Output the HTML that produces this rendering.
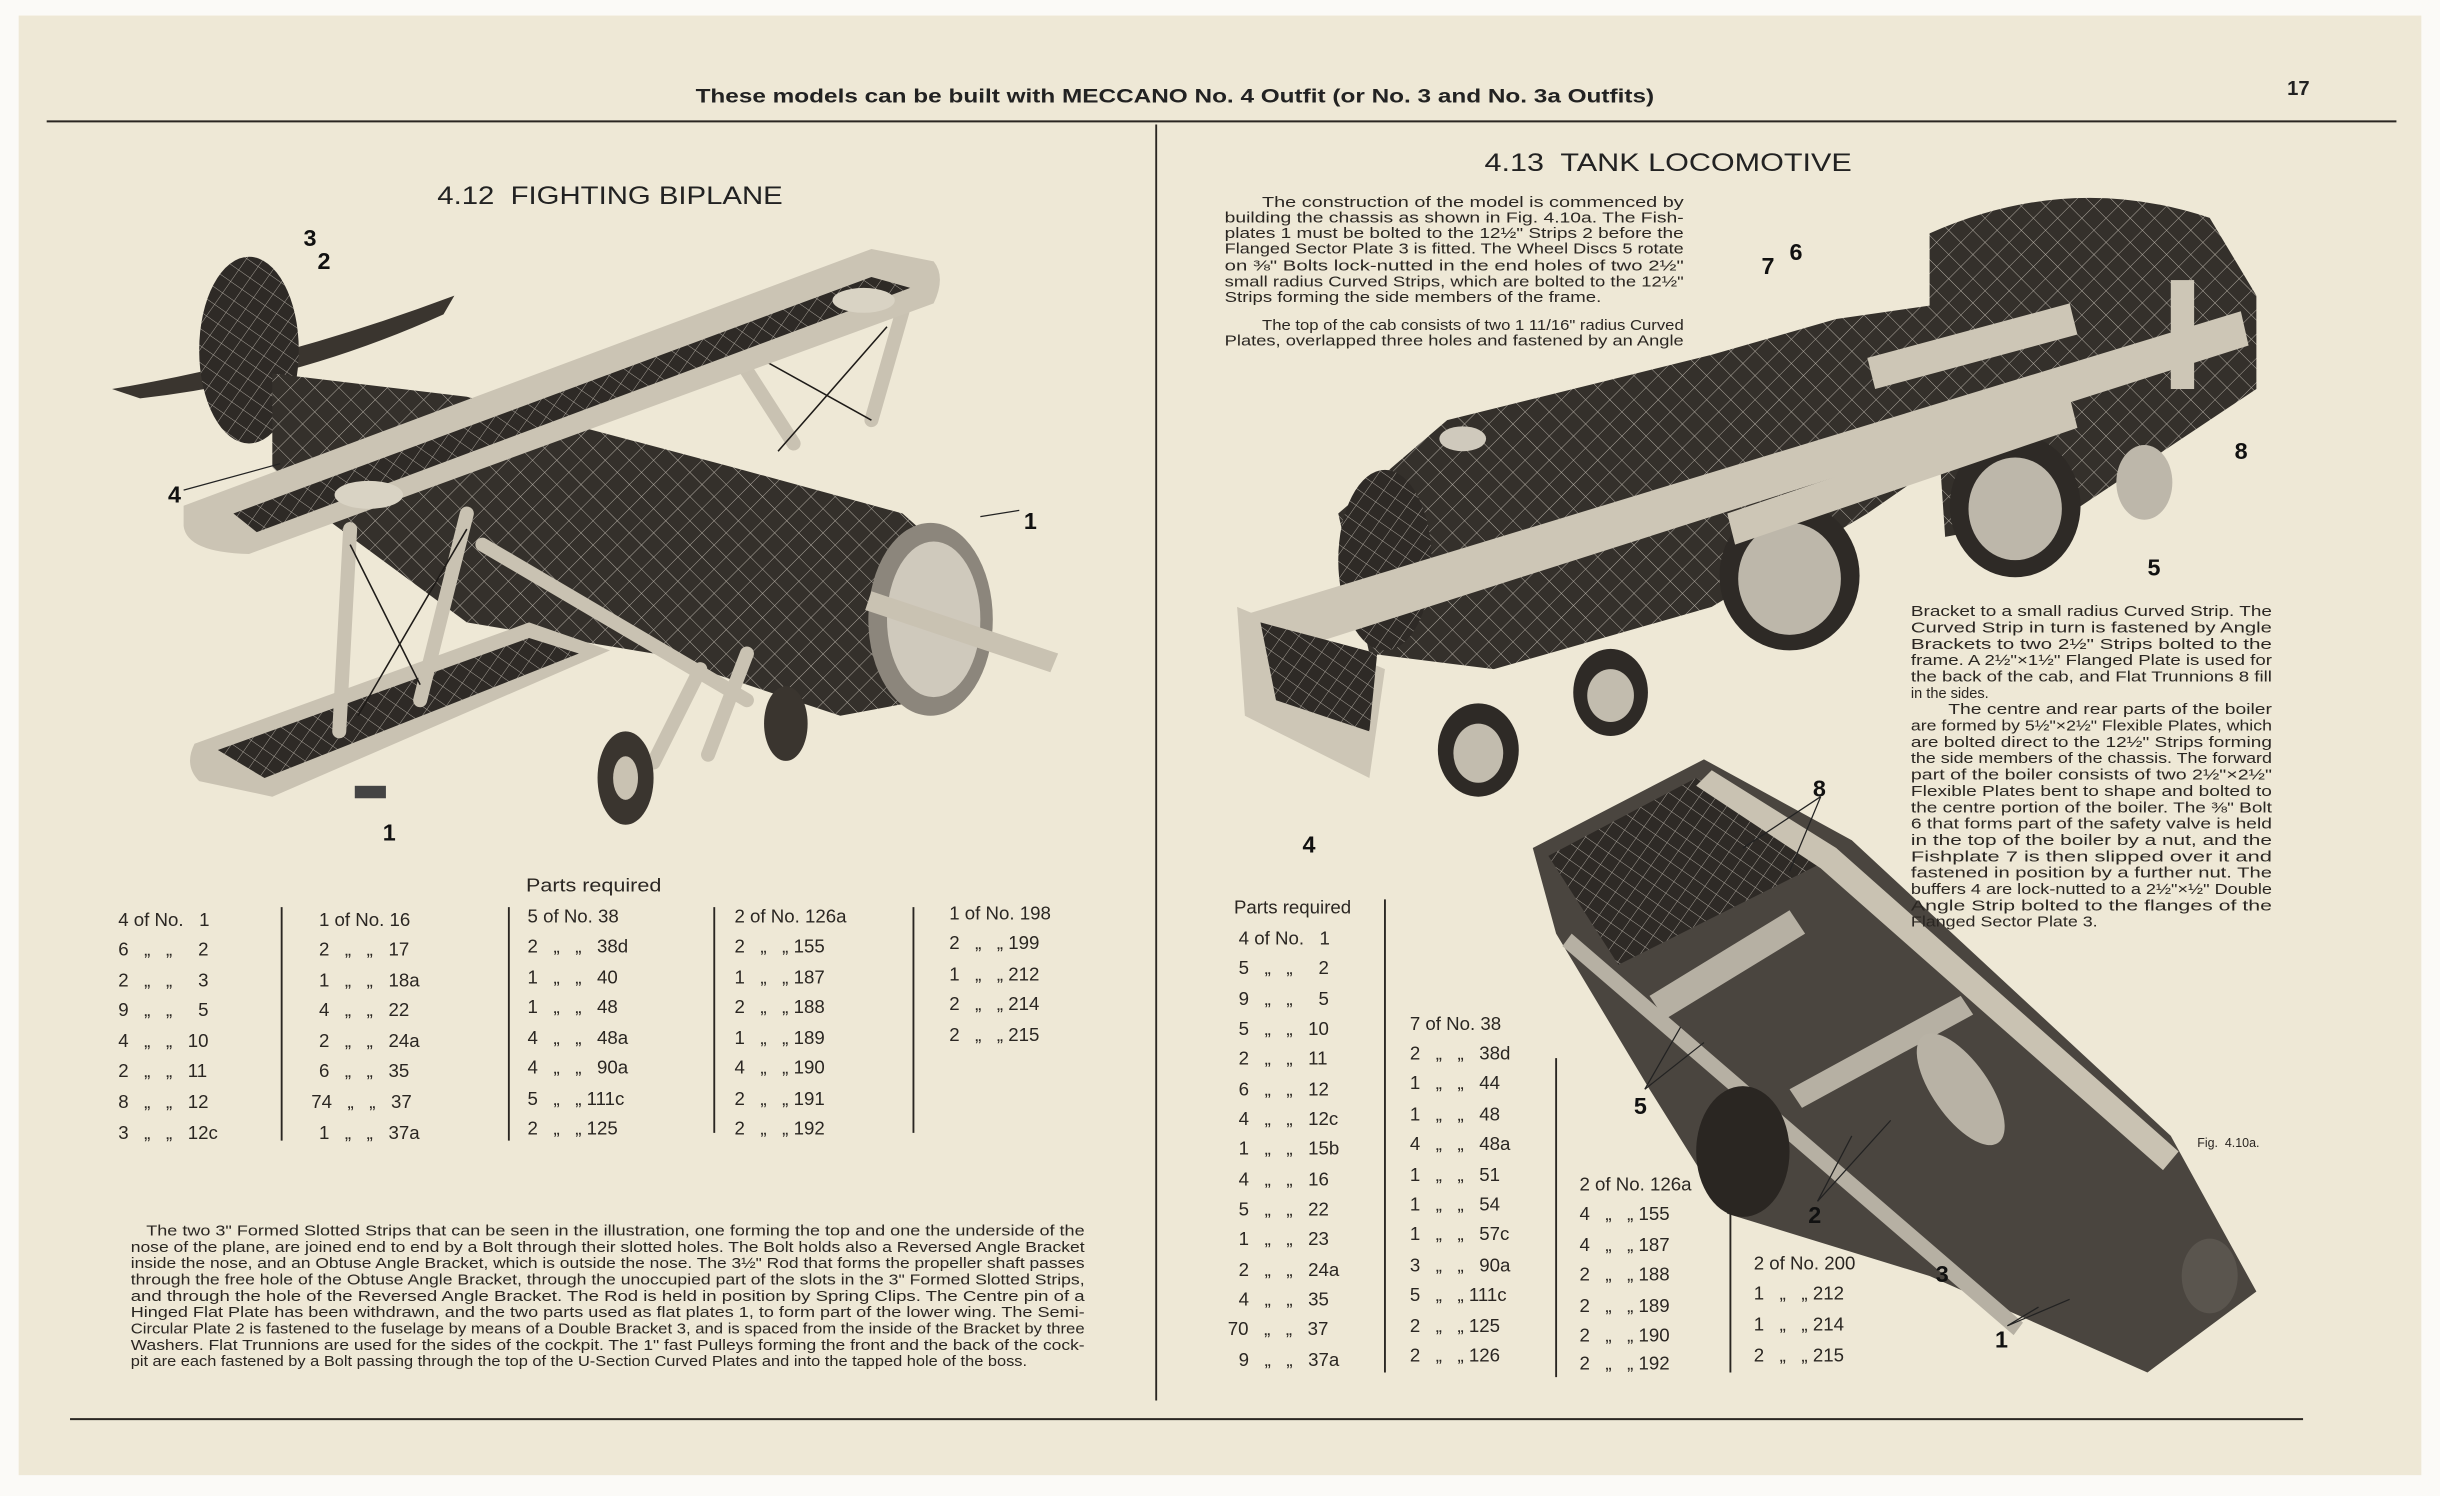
<!DOCTYPE html>
<html><head><meta charset="utf-8"><style>
html,body{margin:0;padding:0;background:#fff;}
svg{display:block}
text{font-family:"Liberation Sans",sans-serif;fill:#2a2622;white-space:pre}
.b{font-size:9.2px}
.t{font-size:12px}
.n{font-size:15px;font-weight:bold;fill:#111}
</style></head><body>
<svg width="2440" height="1496" viewBox="0 0 1568 961.4" preserveAspectRatio="none" xml:space="preserve">
<defs>
<pattern id="hx" width="9" height="9" patternUnits="userSpaceOnUse" patternTransform="rotate(35)">
<rect width="9" height="9" fill="#2e2a26"/>
<path d="M0 0H9M0 0V9" stroke="#a9a39a" stroke-width="0.6"/>
</pattern>
<pattern id="hx2" width="11" height="11" patternUnits="userSpaceOnUse" patternTransform="rotate(45)">
<rect width="11" height="11" fill="#34302b"/>
<path d="M0 0H11M0 0V11" stroke="#b3ada3" stroke-width="0.6"/>
</pattern>
</defs>
<rect x="0" y="0" width="1568" height="961.4" fill="#fbfaf7"/>
<rect x="12" y="10" width="1544" height="938" fill="#eee8d6"/>
<text x="755" y="66" text-anchor="middle" style="font-size:12.5px;font-weight:bold;fill:#222" textLength="616" lengthAdjust="spacingAndGlyphs">These models can be built with MECCANO No. 4 Outfit (or No. 3 and No. 3a Outfits)</text>
<text x="1477" y="61" text-anchor="middle" style="font-size:13px;font-weight:bold;fill:#222">17</text>
<line x1="30" y1="78" x2="1540" y2="78" stroke="#2a2622" stroke-width="1.3"/>
<line x1="743" y1="80" x2="743" y2="900" stroke="#2a2622" stroke-width="1.2"/>
<line x1="45" y1="912" x2="1480" y2="912" stroke="#2a2622" stroke-width="1.3"/>
<text x="392" y="131" text-anchor="middle" style="font-size:16px;fill:#222" textLength="222" lengthAdjust="spacingAndGlyphs">4.12  FIGHTING BIPLANE</text>
<text x="1072" y="110" text-anchor="middle" style="font-size:16px;fill:#222" textLength="236" lengthAdjust="spacingAndGlyphs">4.13  TANK LOCOMOTIVE</text>

<!-- BIPLANE -->
<g>
<path d="M72 250 Q180 232 292 190 L285 202 Q190 245 90 256 Z" fill="#3a352f"/>
<ellipse cx="160" cy="225" rx="32" ry="60" fill="url(#hx)"/>
<path d="M175 240 L300 255 L470 300 L580 330 L625 370 L620 445 L540 460 L420 420 L300 400 L205 330 L175 300 Z" fill="url(#hx2)"/>
<path d="M125 478 L340 400 L392 418 L175 512 L128 502 Q118 492 125 478 Z" fill="#c9c2b2"/>
<path d="M140 482 L340 410 L372 420 L170 500 Z" fill="url(#hx)"/>
<g stroke="#c9c2b2" stroke-width="9" stroke-linecap="round">
<line x1="218" y1="470" x2="225" y2="340"/>
<line x1="270" y1="450" x2="300" y2="330"/>
<line x1="510" y1="285" x2="465" y2="215"/>
<line x1="560" y1="270" x2="580" y2="200"/>
<line x1="310" y1="350" x2="480" y2="450"/>
<line x1="420" y1="490" x2="450" y2="430"/>
<line x1="455" y1="485" x2="480" y2="420"/>
</g>
<g stroke="#1e1b18" stroke-width="1">
<line x1="225" y1="350" x2="270" y2="440"/><line x1="300" y1="340" x2="230" y2="460"/>
<line x1="470" y1="220" x2="560" y2="270"/><line x1="570" y1="210" x2="500" y2="290"/>
</g>
<path d="M118 325 L560 160 L600 168 Q608 178 600 195 L160 356 Q120 355 118 338 Z" fill="#cbc4b4"/>
<path d="M150 330 L560 178 L585 185 L165 342 Z" fill="url(#hx)"/>
<ellipse cx="237" cy="318" rx="22" ry="9" fill="#d9d3c4"/>
<ellipse cx="555" cy="193" rx="20" ry="8" fill="#d9d3c4"/>
<ellipse cx="598" cy="398" rx="40" ry="62" fill="#8c867c"/>
<ellipse cx="600" cy="398" rx="30" ry="50" fill="#cfc9bc"/>
<path d="M560 380 L680 420 L675 432 L556 392 Z" fill="#c9c2b2"/>
<ellipse cx="402" cy="500" rx="18" ry="30" fill="#3a352f"/>
<ellipse cx="402" cy="500" rx="8" ry="14" fill="#c9c2b2"/>
<ellipse cx="505" cy="465" rx="14" ry="24" fill="#3a352f"/>
<rect x="228" y="505" width="20" height="8" fill="#444"/>
</g>
<g>
<text class="n" x="195" y="158">3</text>
<text class="n" x="204" y="173">2</text>
<text class="n" x="108" y="323">4</text>
<text class="n" x="658" y="340">1</text>
<text class="n" x="246" y="540">1</text>
<line x1="118" y1="315" x2="180" y2="298" stroke="#222" stroke-width="0.8"/>
<line x1="630" y1="332" x2="655" y2="328" stroke="#222" stroke-width="0.8"/>
</g>

<!-- LOCOMOTIVE -->
<g>
<path d="M1240 150 Q1330 110 1420 140 L1450 190 L1450 250 L1330 330 L1250 345 L1240 200 Z" fill="url(#hx2)"/>
<path d="M860 330 L930 270 L1100 228 L1180 205 L1250 195 L1330 240 L1200 330 L1100 390 L960 430 L880 420 Z" fill="url(#hx2)"/>
<ellipse cx="890" cy="360" rx="30" ry="58" fill="url(#hx)"/>
<ellipse cx="940" cy="282" rx="15" ry="8" fill="#cfc9bc"/>
<ellipse cx="1150" cy="370" rx="45" ry="48" fill="#2e2a26"/>
<ellipse cx="1150" cy="372" rx="33" ry="36" fill="#bdb7aa"/>
<ellipse cx="1295" cy="325" rx="42" ry="46" fill="#2e2a26"/>
<ellipse cx="1295" cy="327" rx="30" ry="33" fill="#bdb7aa"/>
<ellipse cx="1378" cy="310" rx="18" ry="24" fill="#bdb7aa"/>
<path d="M800 395 L1440 200 L1445 222 L830 418 Z" fill="#cdc6b6"/>
<path d="M1110 330 L1330 255 L1335 275 L1115 350 Z" fill="#cdc6b6"/>
<path d="M1200 230 L1330 195 L1335 215 L1205 250 Z" fill="#cdc6b6"/>
<rect x="1395" y="180" width="15" height="70" fill="#cdc6b6"/>
<path d="M795 390 L890 430 L880 500 L800 460 Z" fill="#cdc6b6"/>
<path d="M810 400 L885 420 L880 470 L820 450 Z" fill="url(#hx)"/>
<ellipse cx="950" cy="482" rx="26" ry="30" fill="#2e2a26"/><ellipse cx="950" cy="484" rx="16" ry="19" fill="#c2bcae"/>
<ellipse cx="1035" cy="445" rx="24" ry="28" fill="#2e2a26"/><ellipse cx="1035" cy="447" rx="15" ry="17" fill="#c2bcae"/>
</g>
<g>
<text class="n" x="1132" y="176">7</text>
<text class="n" x="1150" y="167">6</text>
<text class="n" x="1436" y="295">8</text>
<text class="n" x="1380" y="370">5</text>
<text class="n" x="837" y="548">4</text>
</g>
<!-- chassis figure -->
<g>
<path d="M985 545 L1095 488 L1190 540 L1395 730 L1450 830 L1380 882 L1240 820 L1110 780 L1060 700 L1000 600 Z" fill="#4a453f"/>
<path d="M995 550 L1090 500 L1180 550 L1040 620 Z" fill="url(#hx)"/>
<path d="M1100 495 L1180 545 L1400 740 L1390 752 L1170 558 L1090 505 Z" fill="#c9c2b2"/>
<path d="M1010 600 L1300 850 L1294 858 L1004 608 Z" fill="#b6b0a3"/>
<path d="M1060 640 L1150 585 L1160 600 L1070 655 Z" fill="#b6b0a3"/>
<path d="M1150 700 L1260 640 L1268 652 L1158 712 Z" fill="#b6b0a3"/>
<ellipse cx="1260" cy="700" rx="18" ry="42" transform="rotate(-35 1260 700)" fill="#b8b2a5"/>
<ellipse cx="1120" cy="740" rx="30" ry="42" fill="#2a2622"/>
<ellipse cx="1420" cy="820" rx="18" ry="24" fill="#5a554e"/>
</g>
<g>
<text class="n" x="1165" y="512">8</text>
<text class="n" x="1050" y="716">5</text>
<text class="n" x="1162" y="786">2</text>
<text class="n" x="1244" y="824">3</text>
<text class="n" x="1282" y="866">1</text>
<g stroke="#222" stroke-width="0.8">
<line x1="1170" y1="512" x2="1120" y2="545"/><line x1="1170" y1="512" x2="1150" y2="560"/>
<line x1="1057" y1="700" x2="1080" y2="660"/><line x1="1057" y1="700" x2="1095" y2="670"/>
<line x1="1168" y1="772" x2="1190" y2="730"/><line x1="1168" y1="772" x2="1215" y2="720"/>
<line x1="1290" y1="852" x2="1310" y2="840"/><line x1="1290" y1="852" x2="1330" y2="835"/>
</g>
<text x="1412" y="737" style="font-size:8px">Fig.  4.10a.</text>
</g>

<g>
<text class="b" x="811" y="133" textLength="271" lengthAdjust="spacingAndGlyphs">The construction of the model is commenced by</text>
<text class="b" x="787" y="143" textLength="295" lengthAdjust="spacingAndGlyphs">building the chassis as shown in Fig. 4.10a. The Fish-</text>
<text class="b" x="787" y="153" textLength="295" lengthAdjust="spacingAndGlyphs">plates 1 must be bolted to the 12½" Strips 2 before the</text>
<text class="b" x="787" y="163" textLength="295" lengthAdjust="spacingAndGlyphs">Flanged Sector Plate 3 is fitted. The Wheel Discs 5 rotate</text>
<text class="b" x="787" y="174" textLength="295" lengthAdjust="spacingAndGlyphs">on ⅜" Bolts lock-nutted in the end holes of two 2½"</text>
<text class="b" x="787" y="184" textLength="295" lengthAdjust="spacingAndGlyphs">small radius Curved Strips, which are bolted to the 12½"</text>
<text class="b" x="787" y="194" textLength="242" lengthAdjust="spacingAndGlyphs">Strips forming the side members of the frame.</text>
<text class="b" x="811" y="212" textLength="271" lengthAdjust="spacingAndGlyphs">The top of the cab consists of two 1 11/16" radius Curved</text>
<text class="b" x="787" y="222" textLength="295" lengthAdjust="spacingAndGlyphs">Plates, overlapped three holes and fastened by an Angle</text>
</g>
<g>
<text class="b" x="1228" y="396" textLength="232" lengthAdjust="spacingAndGlyphs">Bracket to a small radius Curved Strip. The</text>
<text class="b" x="1228" y="406.5" textLength="232" lengthAdjust="spacingAndGlyphs">Curved Strip in turn is fastened by Angle</text>
<text class="b" x="1228" y="417" textLength="232" lengthAdjust="spacingAndGlyphs">Brackets to two 2½" Strips bolted to the</text>
<text class="b" x="1228" y="427.5" textLength="232" lengthAdjust="spacingAndGlyphs">frame. A 2½"×1½" Flanged Plate is used for</text>
<text class="b" x="1228" y="438" textLength="232" lengthAdjust="spacingAndGlyphs">the back of the cab, and Flat Trunnions 8 fill</text>
<text class="b" x="1228" y="448.5" textLength="50" lengthAdjust="spacingAndGlyphs">in the sides.</text>
<text class="b" x="1252" y="459" textLength="208" lengthAdjust="spacingAndGlyphs">The centre and rear parts of the boiler</text>
<text class="b" x="1228" y="469.5" textLength="232" lengthAdjust="spacingAndGlyphs">are formed by 5½"×2½" Flexible Plates, which</text>
<text class="b" x="1228" y="480" textLength="232" lengthAdjust="spacingAndGlyphs">are bolted direct to the 12½" Strips forming</text>
<text class="b" x="1228" y="490.5" textLength="232" lengthAdjust="spacingAndGlyphs">the side members of the chassis. The forward</text>
<text class="b" x="1228" y="501" textLength="232" lengthAdjust="spacingAndGlyphs">part of the boiler consists of two 2½"×2½"</text>
<text class="b" x="1228" y="511.5" textLength="232" lengthAdjust="spacingAndGlyphs">Flexible Plates bent to shape and bolted to</text>
<text class="b" x="1228" y="522" textLength="232" lengthAdjust="spacingAndGlyphs">the centre portion of the boiler. The ⅜" Bolt</text>
<text class="b" x="1228" y="532.5" textLength="232" lengthAdjust="spacingAndGlyphs">6 that forms part of the safety valve is held</text>
<text class="b" x="1228" y="543" textLength="232" lengthAdjust="spacingAndGlyphs">in the top of the boiler by a nut, and the</text>
<text class="b" x="1228" y="553.5" textLength="232" lengthAdjust="spacingAndGlyphs">Fishplate 7 is then slipped over it and</text>
<text class="b" x="1228" y="564" textLength="232" lengthAdjust="spacingAndGlyphs">fastened in position by a further nut. The</text>
<text class="b" x="1228" y="574.5" textLength="232" lengthAdjust="spacingAndGlyphs">buffers 4 are lock-nutted to a 2½"×½" Double</text>
<text class="b" x="1228" y="585" textLength="232" lengthAdjust="spacingAndGlyphs">Angle Strip bolted to the flanges of the</text>
<text class="b" x="1228" y="595.5" textLength="120" lengthAdjust="spacingAndGlyphs">Flanged Sector Plate 3.</text>
</g>
<g>
<text class="b" x="94" y="794" textLength="603" lengthAdjust="spacingAndGlyphs">The two 3" Formed Slotted Strips that can be seen in the illustration, one forming the top and one the underside of the</text>
<text class="b" x="84" y="804.5" textLength="613" lengthAdjust="spacingAndGlyphs">nose of the plane, are joined end to end by a Bolt through their slotted holes. The Bolt holds also a Reversed Angle Bracket</text>
<text class="b" x="84" y="815" textLength="613" lengthAdjust="spacingAndGlyphs">inside the nose, and an Obtuse Angle Bracket, which is outside the nose. The 3½" Rod that forms the propeller shaft passes</text>
<text class="b" x="84" y="825.5" textLength="613" lengthAdjust="spacingAndGlyphs">through the free hole of the Obtuse Angle Bracket, through the unoccupied part of the slots in the 3" Formed Slotted Strips,</text>
<text class="b" x="84" y="836" textLength="613" lengthAdjust="spacingAndGlyphs">and through the hole of the Reversed Angle Bracket. The Rod is held in position by Spring Clips. The Centre pin of a</text>
<text class="b" x="84" y="846.5" textLength="613" lengthAdjust="spacingAndGlyphs">Hinged Flat Plate has been withdrawn, and the two parts used as flat plates 1, to form part of the lower wing. The Semi-</text>
<text class="b" x="84" y="857" textLength="613" lengthAdjust="spacingAndGlyphs">Circular Plate 2 is fastened to the fuselage by means of a Double Bracket 3, and is spaced from the inside of the Bracket by three</text>
<text class="b" x="84" y="867.5" textLength="613" lengthAdjust="spacingAndGlyphs">Washers. Flat Trunnions are used for the sides of the cockpit. The 1" fast Pulleys forming the front and the back of the cock-</text>
<text class="b" x="84" y="878" textLength="576" lengthAdjust="spacingAndGlyphs">pit are each fastened by a Bolt passing through the top of the U-Section Curved Plates and into the tapped hole of the boss.</text>
</g>

<text class="t" x="338" y="573" textLength="87" lengthAdjust="spacingAndGlyphs">Parts required</text>
<g stroke="#2a2622" stroke-width="1.2">
<line x1="181" y1="583" x2="181" y2="733"/><line x1="327" y1="583" x2="327" y2="733"/>
<line x1="459" y1="583" x2="459" y2="728"/><line x1="587" y1="583" x2="587" y2="728"/>
</g>
<g>
<text class="t" x="76" y="595">4 of No.   1</text>
<text class="t" x="76" y="614">6   „   „     2</text>
<text class="t" x="76" y="634">2   „   „     3</text>
<text class="t" x="76" y="653">9   „   „     5</text>
<text class="t" x="76" y="673">4   „   „   10</text>
<text class="t" x="76" y="692">2   „   „   11</text>
<text class="t" x="76" y="712">8   „   „   12</text>
<text class="t" x="76" y="732">3   „   „   12c</text>

<text class="t" x="205" y="595">1 of No. 16</text>
<text class="t" x="205" y="614">2   „   „   17</text>
<text class="t" x="205" y="634">1   „   „   18a</text>
<text class="t" x="205" y="653">4   „   „   22</text>
<text class="t" x="205" y="673">2   „   „   24a</text>
<text class="t" x="205" y="692">6   „   „   35</text>
<text class="t" x="200" y="712">74   „   „   37</text>
<text class="t" x="205" y="732">1   „   „   37a</text>

<text class="t" x="339" y="593">5 of No. 38</text>
<text class="t" x="339" y="612">2   „   „   38d</text>
<text class="t" x="339" y="632">1   „   „   40</text>
<text class="t" x="339" y="651">1   „   „   48</text>
<text class="t" x="339" y="671">4   „   „   48a</text>
<text class="t" x="339" y="690">4   „   „   90a</text>
<text class="t" x="339" y="710">5   „   „ 111c</text>
<text class="t" x="339" y="729">2   „   „ 125</text>

<text class="t" x="472" y="593">2 of No. 126a</text>
<text class="t" x="472" y="612">2   „   „ 155</text>
<text class="t" x="472" y="632">1   „   „ 187</text>
<text class="t" x="472" y="651">2   „   „ 188</text>
<text class="t" x="472" y="671">1   „   „ 189</text>
<text class="t" x="472" y="690">4   „   „ 190</text>
<text class="t" x="472" y="710">2   „   „ 191</text>
<text class="t" x="472" y="729">2   „   „ 192</text>

<text class="t" x="610" y="591">1 of No. 198</text>
<text class="t" x="610" y="610">2   „   „ 199</text>
<text class="t" x="610" y="630">1   „   „ 212</text>
<text class="t" x="610" y="649">2   „   „ 214</text>
<text class="t" x="610" y="669">2   „   „ 215</text>
</g>

<g stroke="#2a2622" stroke-width="1.2">
<line x1="890" y1="578" x2="890" y2="882"/>
<line x1="1000" y1="680" x2="1000" y2="885"/>
<line x1="1112" y1="755" x2="1112" y2="882"/>
</g>
<g>
<text class="t" x="793" y="587">Parts required</text>
<text class="t" x="796" y="607">4 of No.   1</text>
<text class="t" x="796" y="626">5   „   „     2</text>
<text class="t" x="796" y="646">9   „   „     5</text>
<text class="t" x="796" y="665">5   „   „   10</text>
<text class="t" x="796" y="684">2   „   „   11</text>
<text class="t" x="796" y="704">6   „   „   12</text>
<text class="t" x="796" y="723">4   „   „   12c</text>
<text class="t" x="796" y="742">1   „   „   15b</text>
<text class="t" x="796" y="762">4   „   „   16</text>
<text class="t" x="796" y="781">5   „   „   22</text>
<text class="t" x="796" y="800">1   „   „   23</text>
<text class="t" x="796" y="820">2   „   „   24a</text>
<text class="t" x="796" y="839">4   „   „   35</text>
<text class="t" x="789" y="858">70   „   „   37</text>
<text class="t" x="796" y="878">9   „   „   37a</text>

<text class="t" x="906" y="662">7 of No. 38</text>
<text class="t" x="906" y="681">2   „   „   38d</text>
<text class="t" x="906" y="700">1   „   „   44</text>
<text class="t" x="906" y="720">1   „   „   48</text>
<text class="t" x="906" y="739">4   „   „   48a</text>
<text class="t" x="906" y="759">1   „   „   51</text>
<text class="t" x="906" y="778">1   „   „   54</text>
<text class="t" x="906" y="797">1   „   „   57c</text>
<text class="t" x="906" y="817">3   „   „   90a</text>
<text class="t" x="906" y="836">5   „   „ 111c</text>
<text class="t" x="906" y="856">2   „   „ 125</text>
<text class="t" x="906" y="875">2   „   „ 126</text>

<text class="t" x="1015" y="765">2 of No. 126a</text>
<text class="t" x="1015" y="784">4   „   „ 155</text>
<text class="t" x="1015" y="804">4   „   „ 187</text>
<text class="t" x="1015" y="823">2   „   „ 188</text>
<text class="t" x="1015" y="843">2   „   „ 189</text>
<text class="t" x="1015" y="862">2   „   „ 190</text>
<text class="t" x="1015" y="880">2   „   „ 192</text>

<text class="t" x="1127" y="816">2 of No. 200</text>
<text class="t" x="1127" y="835">1   „   „ 212</text>
<text class="t" x="1127" y="855">1   „   „ 214</text>
<text class="t" x="1127" y="875">2   „   „ 215</text>
</g>
</svg>
</body></html>
